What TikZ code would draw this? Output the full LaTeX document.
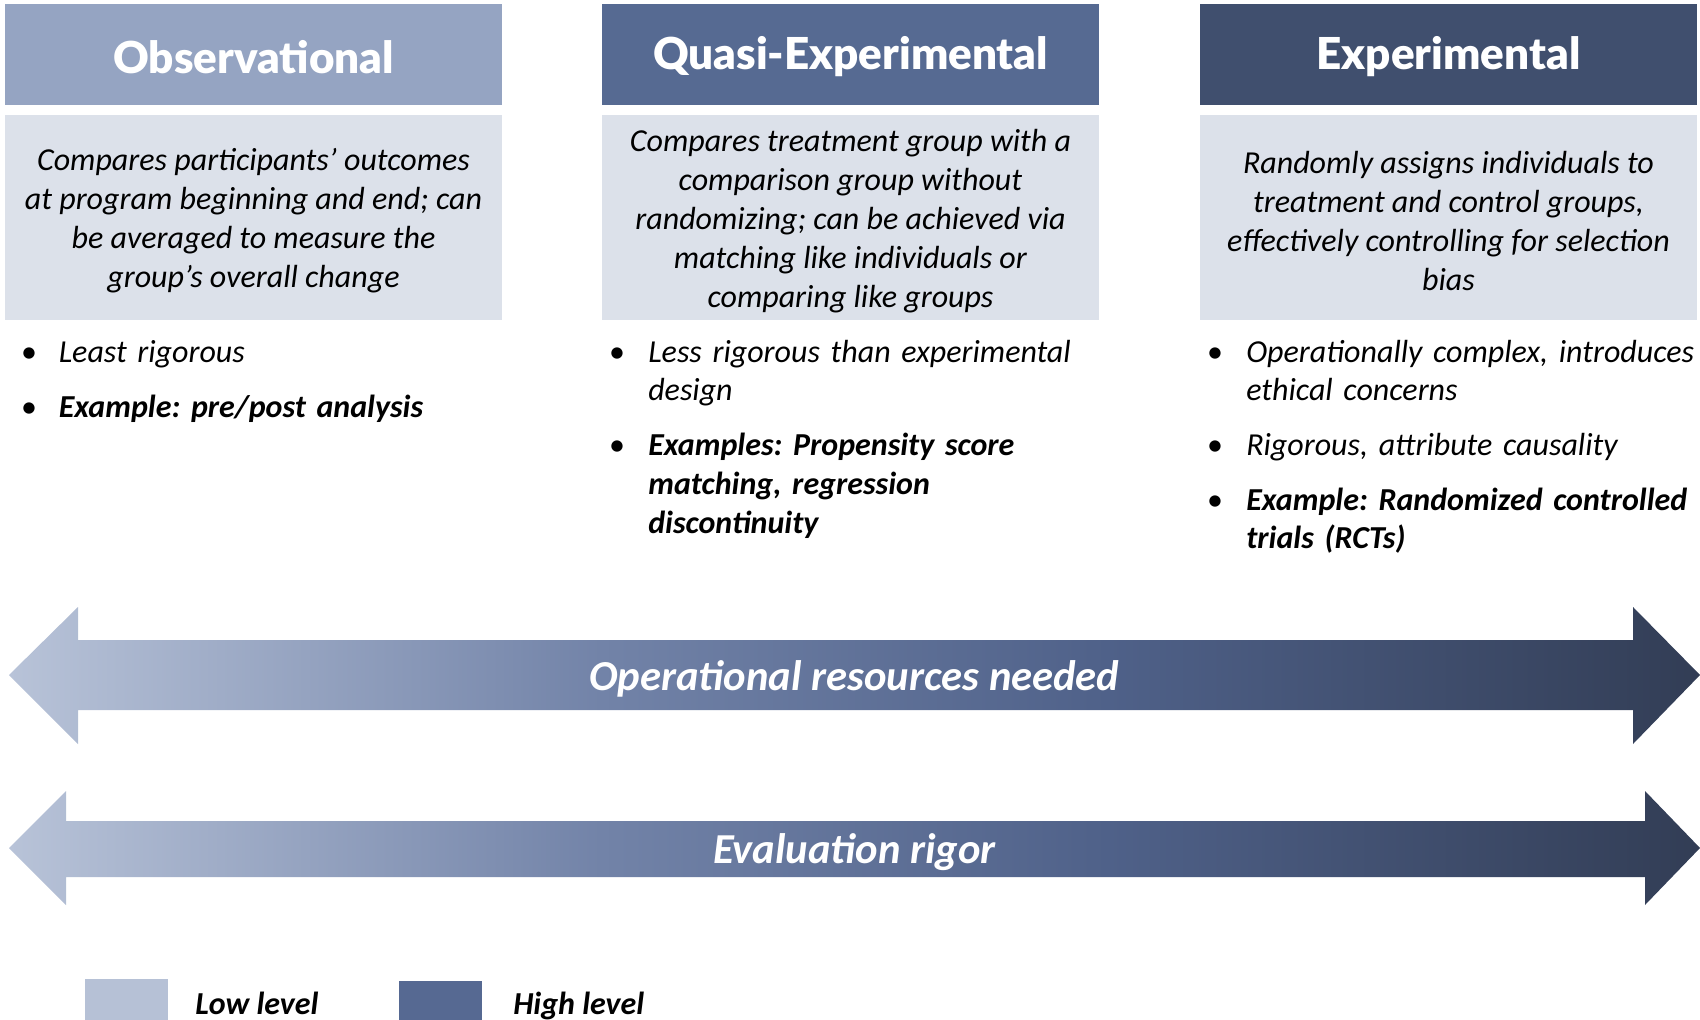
\documentclass[tikz,border=0pt]{standalone}
\usepackage{fontspec}
\setmainfont{Carlito}
\newfontfamily\headfont{Lato}[BoldFont={Lato Black}]
\usetikzlibrary{calc}
\frenchspacing

\definecolor{hdlight}{HTML}{95A4C2}
\definecolor{hdmid}{HTML}{566A92}
\definecolor{hddark}{HTML}{404F6E}
\definecolor{descfill}{HTML}{DCE1EA}
\definecolor{lowlvl}{HTML}{B6C1D6}
\definecolor{highlvl}{HTML}{566992}
\definecolor{shA}{HTML}{B8C3D8}
\definecolor{shB}{HTML}{7283A8}
\definecolor{shC}{HTML}{4F6189}
\definecolor{shD}{HTML}{323D55}

% light-to-dark ramp along the double arrows (path spans 25bp..75bp)
\pgfdeclarehorizontalshading{rampshade}{100bp}{%
  color(0bp)=(shA); color(25bp)=(shA); color(42.5bp)=(shB);
  color(57.5bp)=(shC); color(75bp)=(shD); color(100bp)=(shD)}

\begin{document}
\begin{tikzpicture}[x=0.75pt,y=-0.75pt,
  headbox/.style={minimum width=372.75pt, minimum height=75.75pt, inner sep=0pt,
    text=white, font=\headfont\bfseries\fontsize{33}{35}\selectfont},
  descbox/.style={fill=descfill, minimum width=372.75pt, minimum height=153.75pt,
    inner sep=0pt, align=center, font=\itshape\fontsize{24}{29.2}\selectfont},
  bul/.style={anchor=base, inner sep=0pt, font=\fontsize{24}{29.2}\selectfont},
  item/.style={anchor=base west, inner sep=0pt, text width=345pt, align=left,
    font=\itshape\fontsize{24}{29.2}\selectfont},
  arrowlabel/.style={text=white, inner sep=0pt, font=\bfseries\itshape\fontsize{32}{34}\selectfont},
  legtext/.style={anchor=base west, inner sep=0pt, font=\bfseries\itshape\fontsize{24}{26}\selectfont}
]
\useasboundingbox (0,0) rectangle (1700,1020);

% column headers
\node[headbox, fill=hdlight] (h1) at (253.5,55) {};
\node[headbox, fill=hdmid]   (h2) at (850.5,55) {};
\node[headbox, fill=hddark]  (h3) at (1448.5,55) {};
\node[text=white, inner sep=0pt, font=\headfont\bfseries\fontsize{33}{35}\selectfont] (t1) at (253.5,57) {Observational};
\node[text=white, inner sep=0pt, font=\headfont\bfseries\fontsize{33}{35}\selectfont] (t2) at (850.5,57) {Quasi-Experimental};
\node[text=white, inner sep=0pt, font=\headfont\bfseries\fontsize{33}{35}\selectfont] (t3) at (1448.5,57) {Experimental};

% descriptions
\fill[descfill] (5,115) rectangle (502,320);
\fill[descfill] (602,115) rectangle (1099,320);
\fill[descfill] (1200,115) rectangle (1697,320);
\node[descbox, fill=none] (d1) at (253.5,221) {Compares participants’ outcomes\\at program beginning and end; can\\be averaged to measure the\\group’s overall change};
\node[descbox, fill=none] (d2) at (850.5,221) {Compares treatment group with a\\comparison group without\\randomizing; can be achieved via\\matching like individuals or\\comparing like groups};
\node[descbox, fill=none] (d3) at (1448.5,221) {Randomly assigns individuals to\\treatment and control groups,\\effectively controlling for selection\\bias};

% bullet lists
\node[bul] (b11) at (29,362) {•};
\node[item] (i11) at (58.5,362) {Least rigorous};
\node[bul] (b12) at (29,417) {•};
\node[item] (i12) at (58.5,417) {\bfseries Example: pre/post analysis};

\node[bul] (b21) at (617,362) {•};
\node[item] (i21) at (648,362) {Less rigorous than experimental\\design};
\node[bul] (b22) at (617,455.5) {•};
\node[item] (i22) at (648,455.5) {\bfseries Examples: Propensity score\\matching, regression\\discontinuity};

\node[bul] (b31) at (1215,362) {•};
\node[item] (i31) at (1246,362) {Operationally complex, introduces\\ethical concerns};
\node[bul] (b32) at (1215,455.5) {•};
\node[item] (i32) at (1246,455.5) {Rigorous, attribute causality};
\node[bul] (b33) at (1215,510) {•};
\node[item] (i33) at (1246,510) {\bfseries Example: Randomized controlled\\trials (RCTs)};

% double arrows
\shade[shading=rampshade]
  (9,675) -- (78,607) -- (78,640) -- (1633,640) -- (1633,607) -- (1700,675)
  -- (1633,744) -- (1633,710) -- (78,710) -- (78,744) -- cycle;
\node[arrowlabel] (a1) at (854.5,679) {Operational resources needed};

\shade[shading=rampshade]
  (9,848) -- (66,791) -- (66,821) -- (1645,821) -- (1645,791) -- (1700,848)
  -- (1645,905) -- (1645,877) -- (66,877) -- (66,905) -- cycle;
\node[arrowlabel] (a2) at (854.5,852) {Evaluation rigor};

% legend
\fill[lowlvl] (85,979) rectangle (168,1020);
\node[legtext] (lowtxt) at (195,1014) {Low level};
\fill[highlvl] (399,981) rectangle (482,1020);
\node[legtext] (hightxt) at (513,1014) {High level};
\end{tikzpicture}
\end{document}
